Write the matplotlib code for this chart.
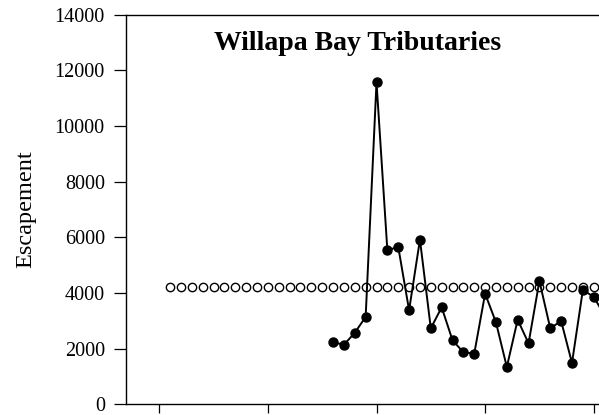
import matplotlib
matplotlib.use("Agg")
import matplotlib.pyplot as plt

# Data
years = list(range(1966, 1992))
escapement = [2230, 2140, 2570, 3140, 11570, 5530, 5660, 3380, 5915, 2730,
              3485, 2300, 1870, 1820, 3975, 2945, 1340, 3040, 2190, 4430,
              2730, 2995, 1485, 4105, 3865, 3190]
goal_years = list(range(1951, 2000))
goal = [4200] * len(goal_years)
xticks = [1950, 1960, 1970, 1980, 1990, 2000]
yticks = [0, 2000, 4000, 6000, 8000, 10000, 12000, 14000]

plt.rcParams['font.family'] = ['Liberation Serif', 'DejaVu Serif']

fig = plt.figure(figsize=(5.99, 4.15), dpi=100)
ax = fig.add_axes([126.3 / 599, 10.7 / 415, 576 / 599, 389.6 / 415])

ax.plot(goal_years, goal, linestyle='none', marker='o', markersize=6,
        markerfacecolor='white', markeredgecolor='black', markeredgewidth=1.0,
        zorder=2)
ax.plot(years, escapement, color='black', linewidth=1.4, marker='o',
        markersize=6.5, markerfacecolor='black', markeredgecolor='black',
        zorder=3)

ax.set_xlim(1946.96, 2000)
ax.set_ylim(0, 14000)
ax.set_xticks(xticks)
ax.set_xticklabels([])
ax.set_yticks(yticks)
ax.tick_params(axis='y', direction='out', length=9, width=0.9, labelsize=14.5, pad=6.5)
ax.tick_params(axis='x', direction='out', length=6.5, width=0.9)
for s in ax.spines.values():
    s.set_linewidth(1.0)

ax.set_ylabel('Escapement', fontsize=17.5)
ax.yaxis.set_label_coords(-(126.3 - 36) / 576, 0.5)

fig.text(214 / 599, 1 - 50 / 415, 'Willapa Bay Tributaries', fontsize=20,
         fontweight='bold', ha='left', va='baseline')

fig.savefig('out.png', dpi=100)
